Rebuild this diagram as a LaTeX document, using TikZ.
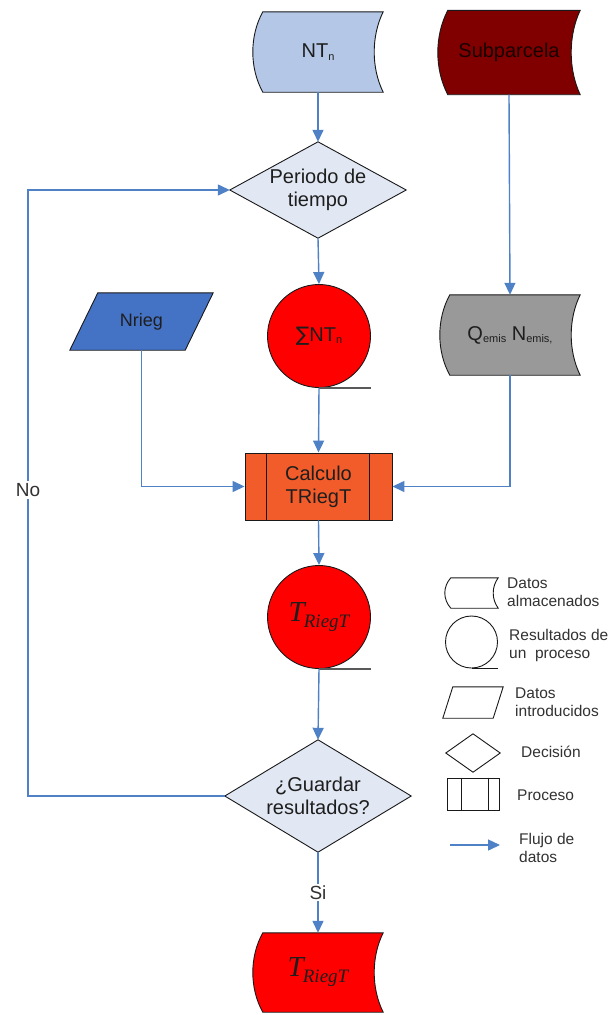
\documentclass[tikz,border=0pt]{standalone}
\usepackage{fontspec}
\setmainfont{Liberation Sans}
\newfontfamily\symfont{DejaVu Sans}
\newfontfamily\tserif{Liberation Serif}
\usetikzlibrary{calc,arrows.meta}
\pgfdeclarelayer{background}
\pgfsetlayers{background,main}

\definecolor{ntblue}{RGB}{180,199,231}
\definecolor{maroon}{RGB}{128,0,0}
\definecolor{diamfill}{RGB}{226,232,243}
\definecolor{resred}{RGB}{255,0,0}
\definecolor{nriegblue}{RGB}{68,114,196}
\definecolor{qgray}{RGB}{153,153,153}
\definecolor{procfill}{RGB}{242,92,42}
\definecolor{flowc}{RGB}{79,129,199}
\definecolor{edgec}{RGB}{25,25,25}
\definecolor{txt}{RGB}{30,30,30}
\definecolor{legtxt}{RGB}{50,50,50}

% small lowered index used in the labels
\newcommand\lsub[1]{\raisebox{-2.5pt}{\fontsize{11}{11}\selectfont #1}}
% italic serif T with its RiegT index
\newcommand\triegt{{\tserif\itshape\fontsize{29}{30}\selectfont T\kern-1pt\raisebox{-6pt}{\fontsize{19}{20}\selectfont RiegT}}}

% stored-data outline: convex left side, concave right side
% #1 node, #2 fill, #3 left bulge, #4 right inward depth, #5 line width
\newcommand\storedpath[5]{%
  \draw[draw=edgec, line width=#5, fill=#2]
    ($(#1.north west)+(#3,0pt)$) -- (#1.north east)
    .. controls ($(#1.north east)!0.3!(#1.south east)+(-#4*4/3,0pt)$)
            and ($(#1.north east)!0.7!(#1.south east)+(-#4*4/3,0pt)$) .. (#1.south east)
    -- ($(#1.south west)+(#3,0pt)$)
    .. controls ($(#1.south west)!0.3!(#1.north west)+(-#3/3,0pt)$)
            and ($(#1.south west)!0.7!(#1.north west)+(-#3/3,0pt)$) .. ($(#1.north west)+(#3,0pt)$)
    -- cycle;}
% decision outline
\newcommand\diampath[3]{%
  \draw[draw=edgec, line width=#3, fill=#2]
    (#1.north) -- (#1.east) -- (#1.south) -- (#1.west) -- cycle;}
% input-data outline (parallelogram), #3 slant offset
\newcommand\parapath[4]{%
  \draw[draw=edgec, line width=#4, fill=#2]
    (#1.south west) -- ($(#1.north west)+(#3,0pt)$) -- (#1.north east)
    -- ($(#1.south east)+(-#3,0pt)$) -- cycle;}

\tikzset{
  holder/.style={rectangle, inner sep=0pt, draw=none, align=center,
    text=txt, font=\fontsize{20}{23}\selectfont},
  result/.style={circle, draw=edgec, line width=0.9pt, fill=resred,
    minimum size=103pt, inner sep=0pt, align=center, text=txt,
    font=\fontsize{20}{23}\selectfont},
  procbox/.style={rectangle, draw=edgec, line width=0.9pt, fill=procfill,
    minimum width=147pt, minimum height=67pt, inner sep=0pt, align=center,
    text=txt, font=\fontsize{20}{23}\selectfont},
  flow/.style={draw=flowc, line width=1.4pt,
    -{Triangle[length=12pt,width=11pt]}},
  tail/.style={draw=black!65, line width=1.8pt},
  lbl/.style={text=legtxt, font=\fontsize{19}{21}\selectfont, inner sep=2pt},
  legtext/.style={anchor=west, align=left, inner sep=0pt, text=legtxt,
    font=\fontsize{15.5}{18}\selectfont},
}

\begin{document}
\begin{tikzpicture}[x=1pt, y=-1pt]
\useasboundingbox (0,0) rectangle (611,1015);

% ---- flowchart nodes ----
\node[holder, minimum width=130pt, minimum height=80pt] (nt) at (318,52) {NT\lsub{n}};
\node[holder, minimum width=142pt, minimum height=84pt, text=black!90!red] (sub) at (509,52.5) {Subparcela};
\node[holder, minimum width=176pt, minimum height=96pt] (per) at (318,190) {Periodo de\\tiempo};
\node[result] (c1) at (319,336) {{\symfont ∑}NT\lsub{n}};
\node[holder, minimum width=143pt, minimum height=57pt, font=\fontsize{18}{21}\selectfont] (nr) at (141.5,321.5) {Nrieg};
\node[holder, minimum width=140pt, minimum height=80pt] (q) at (510,335) {Q\lsub{emis} N\lsub{emis,}};
\node[procbox] (p) at (318.5,486.5) {Calculo\\TRiegT};
\node[result] (c2) at (319,617) {\triegt};
\node[holder, minimum width=186pt, minimum height=112pt] (g) at (318,796) {¿Guardar\\resultados?};
\node[holder, minimum width=130pt, minimum height=79pt] (fin) at (318,972.5) {\triegt};

% process side bars
\draw[draw=edgec, line width=0.9pt] ($(p.north west)+(22pt,0pt)$) -- ($(p.south west)+(22pt,0pt)$);
\draw[draw=edgec, line width=0.9pt] ($(p.north east)+(-23pt,0pt)$) -- ($(p.south east)+(-23pt,0pt)$);

% result tails
\draw[tail] (c1.south) -- ++(52pt,0pt);
\draw[tail] (c2.south) -- ++(52pt,0pt);

% ---- legend ----
\node[holder, minimum width=53pt, minimum height=30pt] (lg1) at (471.5,593) {};
\node[legtext] (lt1) at (507,592) {Datos\\almacenados};
\node[circle, draw=edgec, line width=0.9pt, minimum size=52pt, inner sep=0pt] (lg2) at (471.5,642) {};
\draw[draw=edgec, line width=0.9pt] (lg2.south) -- ++(26pt,0pt);
\node[legtext] (lt2) at (509,645) {Resultados de\\un\ \ proceso};
\node[holder, minimum width=60pt, minimum height=31pt] (lg3) at (473,702.5) {};
\node[legtext] (lt3) at (515,702) {Datos\\introducidos};
\node[holder, minimum width=54pt, minimum height=38pt] (lg4) at (473,753) {};
\node[legtext] (lt4) at (521,752) {Decisión};
\node[rectangle, draw=edgec, line width=0.9pt, minimum width=52pt, minimum height=32pt, inner sep=0pt] (lg5) at (473,794) {};
\draw[draw=edgec, line width=0.9pt] ($(lg5.north west)+(15pt,0pt)$) -- ($(lg5.south west)+(15pt,0pt)$);
\draw[draw=edgec, line width=0.9pt] ($(lg5.north east)+(-11pt,0pt)$) -- ($(lg5.south east)+(-11pt,0pt)$);
\node[legtext] (lt5) at (517,795) {Proceso};
\coordinate (la) at (450,845);
\coordinate (lb) at (500,845);
\draw[flow] (la) -- (lb);
\node[legtext] (lt6) at (519,848) {Flujo de\\datos};

% ---- white page and shape outlines behind the texts ----
\begin{pgfonlayer}{background}
  \fill[white] (0,0) rectangle (611,1015);
  \storedpath{nt}{ntblue}{10pt}{9pt}{0.9pt}
  \storedpath{sub}{maroon}{10pt}{9pt}{0.9pt}
  \storedpath{q}{qgray}{10pt}{9pt}{0.9pt}
  \storedpath{fin}{resred}{10pt}{9pt}{0.9pt}
  \diampath{per}{diamfill}{0.9pt}
  \diampath{g}{diamfill}{0.9pt}
  \parapath{nr}{nriegblue}{28pt}{0.9pt}
  \storedpath{lg1}{white}{6pt}{5pt}{0.9pt}
  \parapath{lg3}{white}{10pt}{0.9pt}
  \diampath{lg4}{white}{0.9pt}
\end{pgfonlayer}

% ---- data flow ----
\draw[flow] (nt.south) -- (per.north);
\draw[flow] (sub.south) -- (q.north);
\draw[flow] (per.south) -- (c1.north);
\draw[flow] (c1.south) -- (p.north);
\draw[flow] (nr.south) |- (p.west);
\draw[flow] (q.south) |- (p.east);
\draw[flow] (p.south) -- (c2.north);
\draw[flow] (c2.south) -- (g.north);
\coordinate (nocorner) at (28,490);
\draw[flow] (g.west) -| (nocorner) |- (per.west);
\node[lbl, fill=white] (nolbl) at (nocorner) {No};
\draw[flow] (g.south) -- node[lbl, fill=white] (silbl) {Si} (fin.north);
\end{tikzpicture}
\end{document}
